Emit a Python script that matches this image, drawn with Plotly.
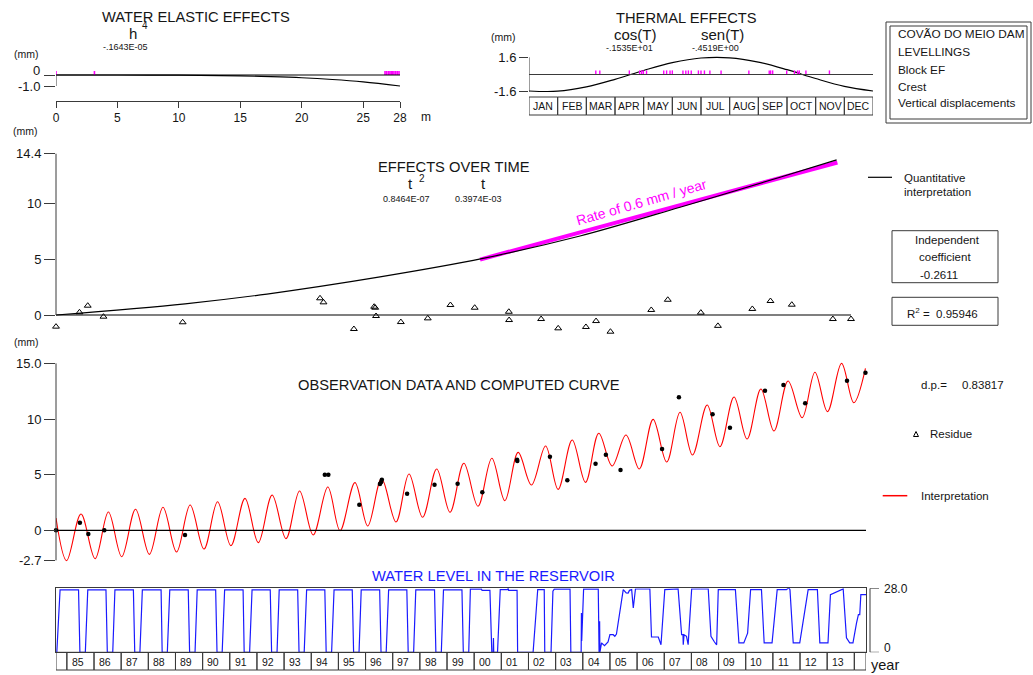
import plotly.graph_objects as go

# ---------------- DATA ----------------
# Water elastic effect (h^4) curve, h in m
elastic_h = [0, 5, 10, 15, 17.5, 20, 22.5, 25, 28]
elastic_mm = [0, -0.002, -0.016, -0.08, -0.15, -0.25, -0.41, -0.63, -1.0]
# reservoir levels at observation dates (magenta ticks)
elastic_obs_h = [0.0, 3.13, 26.78, 26.91, 27.05, 27.18, 27.29, 27.4, 27.51, 27.65, 27.78, 27.92, 28.19]

# Thermal effect curve (month position 0..12)
thermal_month = [0, 1, 2, 3, 4, 5, 6, 7, 8, 9, 10, 11, 12]
thermal_mm = [-1.535, -1.555, -1.159, -0.452, 0.376, 1.103, 1.535, 1.555, 1.159, 0.452, -0.376, -1.103, -1.535]
thermal_obs_month = [2.33, 2.47, 3.50, 3.86, 3.93, 3.99, 4.10, 4.70, 4.80, 4.92, 5.00, 5.37, 5.47, 5.56,
                     5.66, 5.91, 6.00, 6.12, 6.31, 6.70, 7.67, 8.38, 8.43, 8.50, 8.99, 9.26, 9.37, 9.43,
                     9.66, 10.48]
months = ["JAN", "FEB", "MAR", "APR", "MAY", "JUN", "JUL", "AUG", "SEP", "OCT", "NOV", "DEC"]

# Observations (decimal year)
obs_year = [1984.60, 1985.48, 1985.79, 1986.38, 1989.35, 1994.50, 1994.63, 1995.77, 1996.53, 1996.57,
            1996.60, 1997.53, 1998.54, 1999.39, 2000.30, 2001.58, 2001.59, 2002.79, 2003.43, 2004.47,
            2004.85, 2005.39, 2006.92, 2007.54, 2008.78, 2009.42, 2010.71, 2011.39, 2012.19, 2013.73,
            2014.41]
obs_mm = [0.0, 0.68, -0.33, 0.0, -0.42, 5.0, 5.0, 2.3, 4.16, 4.31, 4.55, 3.29, 4.1, 4.19, 3.41, 6.34,
          6.23, 6.61, 4.49, 5.98, 6.79, 5.42, 7.3, 11.95, 10.42, 9.22, 12.54, 13.05, 11.41, 13.44, 14.16]
residue_mm = [-1.04, 0.24, 0.83, -0.15, -0.65, 1.49, 1.13, -1.25, 0.74, 0.65, -0.09, -0.63, -0.3, 0.89,
              0.65, 0.29, -0.45, -0.36, -1.19, -1.07, -0.54, -1.49, 0.45, 1.36, 0.21, -0.97, 0.54, 1.25,
              0.92, -0.36, -0.36]

# Effect over time (quantitative interpretation)
time_year = [1984.60, 1989.44, 1992.51, 1996.75, 2000.61, 2004.25, 2008.00, 2011.75, 2013.87]
time_mm = [0.0, 1.0, 1.87, 3.4, 5.05, 7.05, 9.62, 12.3, 13.85]
rate_year = [2000.50, 2013.90]
rate_mm = [4.95, 13.62]

# Computed curve (interpretation) peaks / troughs
interp_year = [1984.60, 1984.99, 1985.52, 1986.04, 1986.53, 1987.02, 1987.53, 1988.04, 1988.54, 1989.04,
               1989.54, 1990.05, 1990.55, 1991.04, 1991.56, 1992.05, 1992.56, 1993.07, 1993.57, 1994.07,
               1994.61, 1995.06, 1995.61, 1996.08, 1996.59, 1997.12, 1997.60, 1998.10, 1998.62, 1999.11,
               1999.62, 2000.14, 2000.65, 2001.13, 2001.62, 2002.11, 2002.63, 2003.09, 2003.61, 2004.10,
               2004.59, 2005.08, 2005.59, 2006.08, 2006.59, 2007.09, 2007.58, 2008.04, 2008.58, 2009.05,
               2009.57, 2010.05, 2010.56, 2011.04, 2011.56, 2012.08, 2012.55, 2013.01, 2013.53, 2013.98,
               2014.41]
interp_mm = [1.1, -2.73, 1.46, -2.55, 1.64, -2.37, 1.89, -2.16, 2.07, -1.95,
             2.27, -1.68, 2.57, -1.38, 2.87, -1.11, 3.17, -0.75, 3.53, -0.42,
             3.89, -0.03, 4.28, 0.39, 4.64, 0.75, 5.06, 1.17, 5.51, 1.62,
             6.02, 2.16, 6.47, 2.66, 7.0, 4.07, 7.57, 3.68, 8.11, 4.31,
             8.72, 5.78, 8.56, 5.51, 9.97, 6.14, 10.6, 6.77, 11.26, 7.51,
             11.98, 8.2, 12.7, 8.92, 13.41, 10.12, 14.2, 10.66, 15.0, 11.46,
             14.55]

# Water level in the reservoir (m)
wl_year = [1984.63, 1984.75, 1985.43, 1985.48, 1985.68, 1985.77, 1986.44, 1986.49, 1986.69, 1986.77,
           1987.45, 1987.50, 1987.69, 1987.78, 1988.47, 1988.51, 1988.70, 1988.79, 1989.47, 1989.52,
           1989.72, 1989.80, 1990.48, 1990.53, 1990.72, 1990.81, 1991.49, 1991.53, 1991.73, 1991.82,
           1992.49, 1992.54, 1992.74, 1992.82, 1993.50, 1993.55, 1993.74, 1993.83, 1994.50, 1994.55,
           1994.75, 1994.84, 1995.51, 1995.56, 1995.76, 1995.84, 1996.52, 1996.57, 1996.76, 1996.85,
           1997.52, 1997.57, 1997.77, 1997.85, 1998.54, 1998.59, 1998.79, 1998.87, 1999.55, 1999.60,
           1999.80, 1999.86, 2000.27, 2000.29, 2000.58, 2000.64, 2000.65, 2000.70, 2000.71, 2000.72,
           2000.86, 2000.96, 2001.24, 2001.25, 2001.27, 2001.58, 2001.60, 2002.17, 2002.28, 2002.34,
           2002.58, 2002.60, 2002.83, 2002.87, 2002.90, 2002.95, 2003.53, 2003.56, 2003.94, 2003.95,
           2003.96, 2004.03, 2004.57, 2004.60, 2004.62, 2004.63, 2004.69, 2004.80, 2004.93, 2005.00,
           2005.12, 2005.18, 2005.24, 2005.49, 2005.60, 2005.67, 2005.72, 2005.80, 2005.86, 2005.94,
           2006.47, 2006.53, 2006.78, 2006.88, 2007.02, 2007.51, 2007.64, 2007.69, 2007.70, 2007.73,
           2007.82, 2007.88, 2008.01, 2008.62, 2008.72, 2008.85, 2008.93, 2008.99, 2009.62, 2009.75,
           2009.93, 2010.07, 2010.18, 2010.58, 2010.68, 2010.97, 2011.16, 2011.50, 2011.59, 2011.63,
           2011.75, 2011.99, 2012.30, 2012.64, 2012.73, 2013.03, 2013.12, 2013.59, 2013.71, 2013.83,
           2013.95, 2014.08, 2014.15, 2014.20, 2014.24, 2014.43]
wl_m = [0, 27.3, 27.3, 0, 0, 27.3, 27.3, 0, 0, 27.3,
        27.3, 0, 0, 27.3, 27.3, 0, 0, 27.3, 27.3, 0,
        0, 27.3, 27.3, 0, 0, 27.3, 27.3, 0, 0, 27.3,
        27.3, 0, 0, 27.3, 27.3, 0, 0, 27.3, 27.3, 0,
        0, 27.3, 27.3, 0, 0, 27.3, 27.3, 0, 0, 27.3,
        27.3, 0, 0, 27.3, 27.3, 0, 0, 27.3, 27.3, 0,
        0, 27.6, 27.7, 27.1, 27.1, 6.3, 0, 0, 6.3, 0,
        0, 27.4, 27.4, 28.1, 27.1, 27.1, 0, 0, 17.5, 27.4,
        27.4, 0, 0, 21.6, 26.7, 27.6, 27.6, 0, 0, 17.2,
        5.0, 27.6, 27.6, 0, 13.6, 0, 4.1, 2.9, 4.5, 7.7,
        7.7, 7.0, 8.0, 27.4, 26.0, 25.9, 27.1, 27.4, 19.4, 27.7,
        27.7, 6.7, 6.7, 3.3, 27.4, 27.7, 7.7, 7.7, 3.3, 7.7,
        7.0, 3.3, 27.7, 27.7, 7.0, 4.5, 3.3, 27.4, 27.4, 4.1,
        4.1, 8.4, 27.4, 27.4, 4.1, 4.1, 27.4, 27.4, 28.3, 27.4,
        4.1, 4.1, 27.4, 27.4, 4.1, 4.1, 25.2, 27.7, 6.3, 4.1,
        4.1, 12.8, 16.5, 16.5, 25.2, 25.2]
year_labels = ["85", "86", "87", "88", "89", "90", "91", "92", "93", "94", "95", "96", "97", "98", "99",
               "00", "01", "02", "03", "04", "05", "06", "07", "08", "09", "10", "11", "12", "13"]
first_label_year = 1985

# ---------------- LAYOUT HELPERS ----------------
W, H = 1033, 675
FONT = "Liberation Sans, Arial, Helvetica, sans-serif"
TXT = "#151515"
AX = "#3a3a3a"
MAG = "#ff00ff"
BLUE = "#1a1aff"
T_START, T_END = 1984.6, 2014.43


def px(x):
    return x / W


def py(y):
    return 1 - y / H


def ann(text, x, y, size, color=TXT, xanchor="center", angle=0):
    return dict(text=text, x=px(x), y=py(y), xref="paper", yref="paper", showarrow=False,
                font=dict(family=FONT, size=size, color=color), xanchor=xanchor, yanchor="middle",
                textangle=angle, borderpad=0)


def rect_px(x0, y0, x1, y1, color=AX, width=1):
    return dict(type="rect", xref="paper", yref="paper", x0=px(x0), x1=px(x1), y0=py(y1), y1=py(y0),
                line=dict(color=color, width=width), fillcolor="rgba(0,0,0,0)")


def line_px(x0, y0, x1, y1, color=AX, width=1):
    return dict(type="line", xref="paper", yref="paper", x0=px(x0), x1=px(x1), y0=py(y0), y1=py(y1),
                line=dict(color=color, width=width))


fig = go.Figure()

# ---- Water elastic effects (x, y)
fig.add_trace(go.Scatter(x=elastic_h, y=elastic_mm, xaxis="x", yaxis="y", mode="lines",
                         line=dict(color="black", width=1.2, shape="spline"), hoverinfo="skip"))
fig.add_trace(go.Scatter(x=elastic_obs_h, y=[0] * len(elastic_obs_h), xaxis="x", yaxis="y", mode="markers",
                         marker=dict(size=1, color="rgba(0,0,0,0)"), cliponaxis=False,
                         error_y=dict(type="data", symmetric=False, array=[0.37] * len(elastic_obs_h),
                                      arrayminus=[0] * len(elastic_obs_h), width=0, thickness=1.6, color=MAG),
                         hoverinfo="skip"))

# ---- Thermal effects (x2, y2)
fig.add_trace(go.Scatter(x=thermal_month, y=thermal_mm, xaxis="x2", yaxis="y2", mode="lines",
                         line=dict(color="black", width=1.2, shape="spline"), hoverinfo="skip"))
fig.add_trace(go.Scatter(x=thermal_obs_month, y=[0] * len(thermal_obs_month), xaxis="x2", yaxis="y2",
                         mode="markers", marker=dict(size=1, color="rgba(0,0,0,0)"),
                         error_y=dict(type="data", symmetric=False, array=[0.38] * len(thermal_obs_month),
                                      arrayminus=[0] * len(thermal_obs_month), width=0, thickness=1.4,
                                      color=MAG),
                         hoverinfo="skip"))

# ---- Effects over time (x3, y3)
fig.add_trace(go.Scatter(x=rate_year, y=rate_mm, xaxis="x3", yaxis="y3", mode="lines",
                         line=dict(color=MAG, width=4), hoverinfo="skip"))
fig.add_trace(go.Scatter(x=time_year, y=time_mm, xaxis="x3", yaxis="y3", mode="lines",
                         line=dict(color="black", width=1.2, shape="spline"), hoverinfo="skip"))
fig.add_trace(go.Scatter(x=obs_year, y=residue_mm, xaxis="x3", yaxis="y3", mode="markers", cliponaxis=False,
                         marker=dict(symbol="triangle-up-open", size=6, color="black", line=dict(width=1)),
                         hoverinfo="skip"))

# ---- Observation data and computed curve (x4, y4)
fig.add_trace(go.Scatter(x=interp_year, y=interp_mm, xaxis="x4", yaxis="y4", mode="lines",
                         line=dict(color="#ff0000", width=1.1, shape="spline", smoothing=1.0),
                         hoverinfo="skip"))
fig.add_trace(go.Scatter(x=obs_year, y=obs_mm, xaxis="x4", yaxis="y4", mode="markers", cliponaxis=False,
                         marker=dict(symbol="circle", size=4.5, color="black"), hoverinfo="skip"))

# ---- Water level (x5, y5)
fig.add_trace(go.Scatter(x=wl_year, y=wl_m, xaxis="x5", yaxis="y5", mode="lines",
                         line=dict(color=BLUE, width=1.2), hoverinfo="skip"))

tickfont = dict(family=FONT, size=13, color=TXT)
hidden_x = dict(showgrid=False, zeroline=False, showline=False, ticks="", showticklabels=False)

layout = dict(
    width=W, height=H, autosize=False, showlegend=False,
    margin=dict(l=0, r=0, t=0, b=0, autoexpand=False),
    paper_bgcolor="white", plot_bgcolor="rgba(0,0,0,0)",
    font=dict(family=FONT, color=TXT),
    # elastic
    xaxis=dict(domain=[px(56), px(400)], range=[0, 28], anchor="y", showgrid=False, zeroline=False,
               showline=True, linecolor=AX, linewidth=1, ticks="outside", ticklen=6, tickcolor=AX,
               tickvals=[0, 5, 10, 15, 20, 25, 28], tickfont=dict(family=FONT, size=12, color=TXT)),
    yaxis=dict(domain=[py(100.7), py(66)], range=[-(100.7 - 75) / 11, (75 - 66) / 11], anchor="x",
               showgrid=False, zeroline=False, showline=False, ticks="outside", ticklen=11, tickcolor=AX,
               tickvals=[0, -1], showticklabels=False),
    # thermal
    xaxis2=dict(domain=[px(529), px(873)], range=[0, 12], anchor="y2", **hidden_x),
    yaxis2=dict(domain=[py(97), py(50)], range=[-(97 - 74.5) / 10.75, (74.5 - 50) / 10.75], anchor="x2",
                showgrid=False, zeroline=False, showline=False, ticks="outside", ticklen=9, tickcolor=AX,
                tickvals=[1.6, -1.6], ticktext=["1.6", "-1.6"], tickfont=tickfont),
    # effects over time
    xaxis3=dict(domain=[px(56), px(851)], range=[1984.6, 2014.41], anchor="y3", **hidden_x),
    yaxis3=dict(domain=[py(335), py(150)], range=[-(335 - 315) / 11.2, (315 - 150) / 11.2], anchor="x3",
                showgrid=False, zeroline=False, showline=False, ticks="outside", ticklen=11, tickcolor=AX,
                tickvals=[0, 5, 10, 14.4], ticktext=["0", "5", "10", "14.4"], tickfont=tickfont),
    # observations
    xaxis4=dict(domain=[px(56), px(866)], range=[T_START, T_END], anchor="y4", **hidden_x),
    yaxis4=dict(domain=[py(565), py(355)], range=[-(565 - 530.3) / 11.13, (530.3 - 355) / 11.13],
                anchor="x4", showgrid=False, zeroline=False, showline=False, ticks="outside", ticklen=11,
                tickcolor=AX, tickvals=[15, 10, 5, 0, -2.7], ticktext=["15.0", "10", "5", "0", "-2.7"],
                tickfont=tickfont),
    # water level
    xaxis5=dict(domain=[px(56), px(866)], range=[T_START, T_END], anchor="y5", showgrid=False,
                zeroline=False, showline=True, mirror=True, linecolor=AX, linewidth=1, ticks="",
                showticklabels=False),
    yaxis5=dict(domain=[py(652.3), py(588.3)], range=[0, 28], anchor="x5", showgrid=False, zeroline=False,
                showline=True, mirror=True, linecolor=AX, linewidth=1, ticks="", showticklabels=False),
)

shapes = []
# zero lines and spines
shapes.append(dict(type="line", xref="x", yref="y", x0=0, x1=28.2, y0=0, y1=0,
                   line=dict(color="black", width=1.2)))
shapes.append(dict(type="line", xref="x", yref="y", x0=0, x1=0, y0=0, y1=-1, line=dict(color=AX, width=1)))
shapes.append(dict(type="line", xref="x2 domain", yref="y2", x0=0, x1=1, y0=0, y1=0,
                   line=dict(color=AX, width=1)))
shapes.append(dict(type="line", xref="x2", yref="y2", x0=0, x1=0, y0=-1.6, y1=1.6, line=dict(color=AX, width=1)))
shapes.append(dict(type="line", xref="x3 domain", yref="y3", x0=0, x1=1, y0=0, y1=0,
                   line=dict(color="black", width=1.2)))
shapes.append(dict(type="line", xref="x3 domain", yref="y3", x0=0, x1=0, y0=0, y1=14.4,
                   line=dict(color=AX, width=1)))
shapes.append(dict(type="line", xref="x4 domain", yref="y4", x0=0, x1=1, y0=0, y1=0,
                   line=dict(color="black", width=1.2)))
shapes.append(dict(type="line", xref="x4 domain", yref="y4", x0=0, x1=0, y0=-2.7, y1=15.0,
                   line=dict(color=AX, width=1)))
# right-hand water level scale
shapes.append(dict(type="line", xref="paper", yref="y5", x0=px(870), x1=px(870), y0=0, y1=28,
                   line=dict(color=AX, width=1)))
for v in (0, 28):
    shapes.append(dict(type="line", xref="paper", yref="y5", x0=px(870), x1=px(879), y0=v, y1=v,
                       line=dict(color=AX, width=1)))

# month boxes
for i in range(12):
    shapes.append(dict(type="rect", xref="x2", yref="paper", x0=i, x1=i + 1, y0=py(115), y1=py(97),
                       line=dict(color=AX, width=1), fillcolor="rgba(0,0,0,0)"))
# year boxes
edges = [T_START] + [first_label_year + k for k in range(len(year_labels) + 1)] + [T_END]
for a, b in zip(edges[:-1], edges[1:]):
    shapes.append(dict(type="rect", xref="x5", yref="paper", x0=a, x1=b, y0=py(670), y1=py(652.3),
                       line=dict(color=AX, width=1), fillcolor="rgba(0,0,0,0)"))

# info box (top right), double border
shapes.append(rect_px(886, 22, 1031, 123))
shapes.append(rect_px(890, 26, 1027, 119))
# coefficient boxes
shapes.append(rect_px(892, 230.7, 998, 282.7))
shapes.append(rect_px(892, 297.3, 998, 325.3))
# legend samples
shapes.append(line_px(868, 177.3, 892, 177.3, color="black", width=1.2))
shapes.append(line_px(882.7, 495.7, 907.3, 495.7, color="#ff0000", width=1.5))
shapes.append(dict(type="path", xref="paper", yref="paper",
                   path=f"M {px(913.5)} {py(436.5)} L {px(918.5)} {py(436.5)} L {px(916)} {py(431.5)} Z",
                   line=dict(color="black", width=1), fillcolor="rgba(0,0,0,0)"))
layout["shapes"] = shapes

annotations = [
    ann("WATER ELASTIC EFFECTS", 195.5, 16.7, 14.7),
    ann("h", 133, 33.5, 15),
    ann("4", 144.5, 25.5, 10),
    ann("-.1643E-05", 125.7, 46.7, 9),
    ann("(mm)", 26.7, 54, 10.5),
    ann("0", 41, 70.5, 13, xanchor="right"),
    ann("-1.0", 41, 86, 13, xanchor="right"),
    ann("m", 426, 117.5, 12),
    ann("THERMAL EFFECTS", 686.7, 18.3, 14.7),
    ann("cos(T)", 635.7, 35, 15),
    ann("sen(T)", 722.3, 35, 15),
    ann("-.1535E+01", 629.3, 47.7, 9),
    ann("-.4519E+00", 715.7, 47.7, 9),
    ann("(mm)", 503.3, 36.7, 10.5),
    ann("COVÃO DO MEIO DAM", 897, 34.3, 11.8, xanchor="left"),
    ann("LEVELLINGS", 897, 52.3, 11.8, xanchor="left"),
    ann("Block EF", 897, 70, 11.8, xanchor="left"),
    ann("Crest", 897, 86.7, 11.8, xanchor="left"),
    ann("Vertical displacements", 897, 103.3, 11.8, xanchor="left"),
    ann("(mm)", 25, 131.5, 10.5),
    ann("EFFECTS OVER TIME", 454, 166.7, 14.7),
    ann("t", 410.7, 183.3, 15),
    ann("2", 421.7, 178.3, 10),
    ann("t", 483.3, 183.3, 15),
    ann("0.8464E-07", 406, 199, 9),
    ann("0.3974E-03", 478.8, 199, 9),
    ann("Rate of 0.6 mm / year", 641.7, 201.7, 14, color=MAG, angle=-16),
    ann("Quantitative", 903, 177.7, 11.5, xanchor="left"),
    ann("interpretation", 903, 191.7, 11.5, xanchor="left"),
    ann("Independent", 947, 240.3, 11.5),
    ann("coefficient", 945, 256.7, 11.5),
    ann("-0.2611", 939.2, 275, 11.5),
    ann("R<sup>2</sup> =  0.95946", 942, 312.5, 11.5),
    ann("(mm)", 26, 342.3, 10.5),
    ann("OBSERVATION DATA AND COMPUTED CURVE", 459, 385, 14.7),
    ann("d.p.=", 920, 385, 11.5, xanchor="left"),
    ann("0.83817", 961, 385, 11.5, xanchor="left"),
    ann("Residue", 928.5, 434.3, 11.5, xanchor="left"),
    ann("Interpretation", 920, 495.7, 11.5, xanchor="left"),
    ann("WATER LEVEL IN THE RESERVOIR", 493, 576, 14.7, color=BLUE),
    ann("28.0", 883, 589, 12, xanchor="left"),
    ann("0", 883, 648, 12, xanchor="left"),
    ann("year", 869.5, 665, 14.5, xanchor="left"),
]
for i, m in enumerate(months):
    annotations.append(dict(text=m, x=i + 0.5, y=py(106), xref="x2", yref="paper", showarrow=False,
                            font=dict(family=FONT, size=10.5, color=TXT), xanchor="center", yanchor="middle"))
for k, lab in enumerate(year_labels):
    annotations.append(dict(text=lab, x=first_label_year + k + 0.1, y=py(661.5), xref="x5", yref="paper",
                            showarrow=False, font=dict(family=FONT, size=10.5, color=TXT),
                            xanchor="left", yanchor="middle"))
layout["annotations"] = annotations

fig.update_layout(**layout)
fig.write_html("out.html", config={"displayModeBar": False},
               post_script="document.body.style.margin='0px';document.body.style.overflow='hidden';")
